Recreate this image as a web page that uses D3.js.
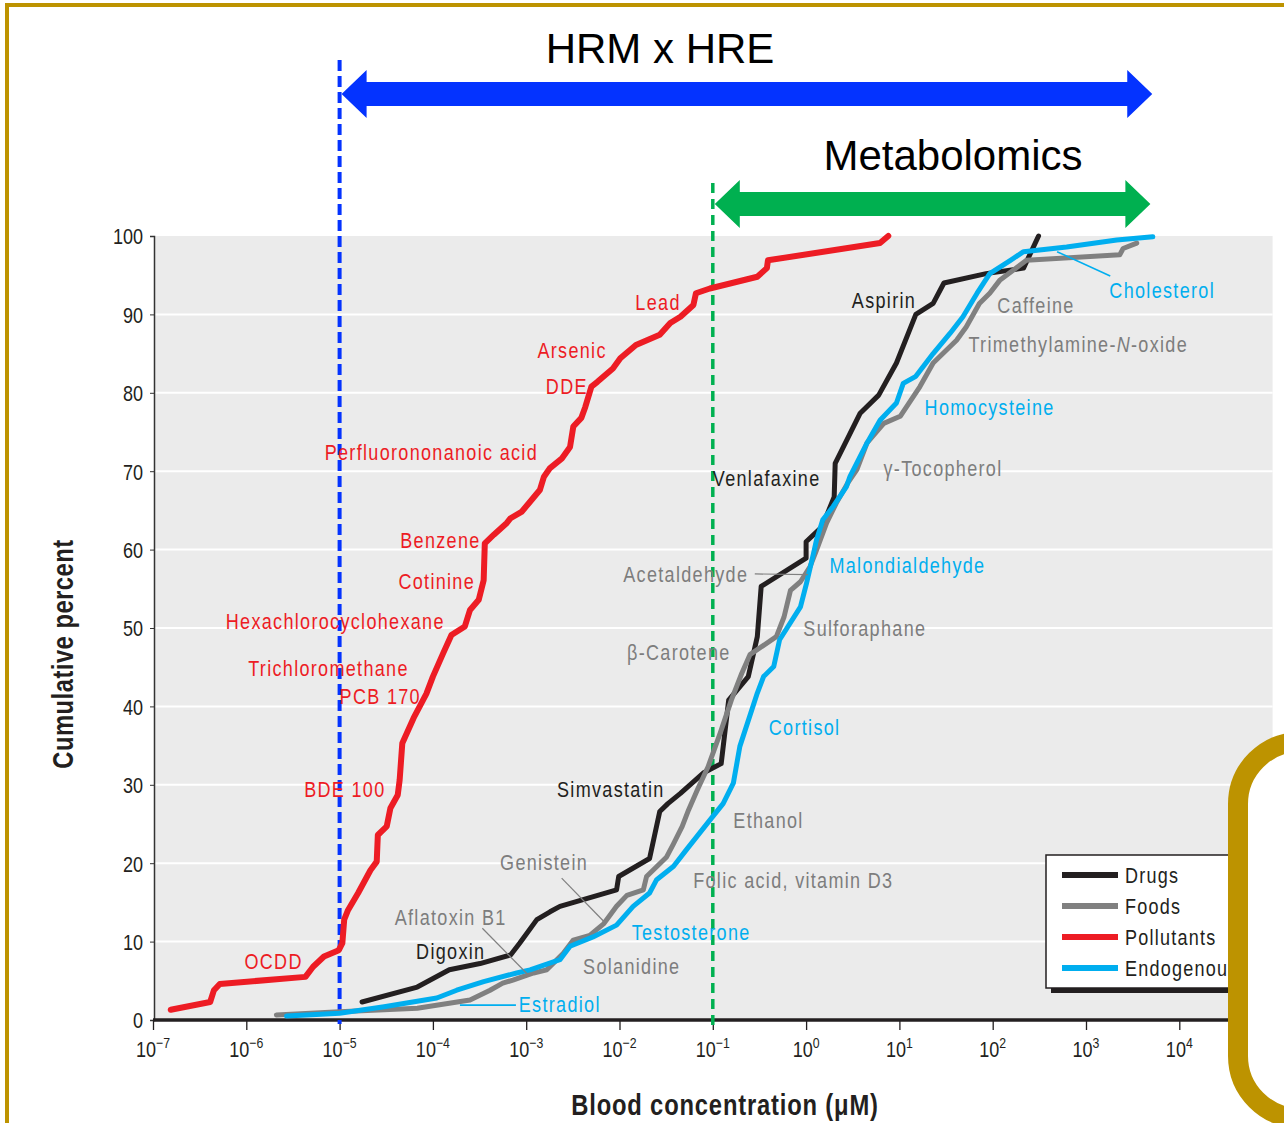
<!DOCTYPE html>
<html>
<head>
<meta charset="utf-8">
<script src="https://cdn.jsdelivr.net/npm/d3@7"></script>
<style>
  body { margin: 0; background: #fff; }
  svg { display: block; }
  text { font-family: "Liberation Sans", Arial, sans-serif; }
</style>
</head>
<body>
<svg id="chart" width="1284" height="1123"></svg>
<script>
// Cumulative distributions of blood concentrations: [concentration (µM), cumulative percent]
const pollutants = [
  [1.55e-7,1.3],[4.1e-7,2.3],[4.5e-7,3.8],[5.2e-7,4.6],[4.3e-6,5.5],[5.2e-6,6.8],[6.8e-6,8.1],
  [9.8e-6,8.9],[1.07e-5,9.8],[1.12e-5,12.8],[1.23e-5,14.0],[1.58e-5,16.2],[2.14e-5,19.1],
  [2.5e-5,20.2],[2.57e-5,23.6],[3.2e-5,24.7],[3.5e-5,27.0],[4.2e-5,28.7],[4.4e-5,30.6],
  [4.7e-5,35.3],[6.2e-5,38.5],[8.5e-5,41.6],[1.0e-4,43.8],[1.29e-4,46.8],[1.58e-4,49.1],
  [2.2e-4,50.2],[2.5e-4,52.3],[3.1e-4,53.6],[3.5e-4,56.1],[3.6e-4,60.8],[4.5e-4,61.9],
  [6.2e-4,63.4],[6.8e-4,64.0],[8.9e-4,64.8],[1.1e-3,66.1],[1.4e-3,67.6],[1.55e-3,69.3],
  [1.8e-3,70.4],[2.4e-3,71.6],[2.95e-3,73.1],[3.2e-3,75.7],[3.9e-3,76.8],[4.3e-3,78.2],
  [5.0e-3,80.8],[5.8e-3,81.4],[8.5e-3,83.1],[1.02e-2,84.4],[1.5e-2,86.1],[2.7e-2,87.4],
  [3.5e-2,88.9],[4.5e-2,89.7],[6.2e-2,91.2],[6.6e-2,92.7],[9.3e-2,93.3],[0.30,94.8],
  [0.38,95.9],[0.39,96.9],[6.2,99.1],[7.6,100]
];
const drugs = [
  [1.74e-5,2.3],[6.8e-5,4.2],[1.5e-4,6.4],[3.2e-4,7.2],[6.8e-4,8.3],[8.5e-4,9.8],[1.3e-3,12.8],
  [1.8e-3,13.8],[2.3e-3,14.5],[9.3e-3,16.6],[9.8e-3,18.3],[2.1e-2,20.6],[2.7e-2,26.6],
  [3.3e-2,27.6],[4.5e-2,28.9],[7.9e-2,31.5],[0.123,32.7],[0.148,40.8],[0.24,43.8],[0.30,48.9],
  [0.33,55.3],[1.0,58.9],[1.0,61.0],[1.48,62.9],[2.0,66.7],[2.05,71.0],[3.8,77.4],[6.0,79.7],
  [9.3,83.8],[15,90.0],[23,91.4],[30,94.0],[85,95.2],[214,95.9],[310,100]
];
const foods = [
  [2.1e-6,0.64],[1.0e-5,1.06],[6.8e-5,1.5],[2.5e-4,2.55],[4.1e-4,3.8],[5.6e-4,4.7],[7.2e-4,5.1],
  [1.2e-3,6.0],[1.66e-3,6.4],[2.5e-3,8.5],[3.2e-3,10.2],[4.8e-3,10.8],[6.8e-3,12.3],[9.3e-3,14.5],
  [1.2e-2,15.9],[1.8e-2,16.6],[1.95e-2,18.3],[3.2e-2,20.8],[3.8e-2,22.5],[4.7e-2,24.7],
  [5.5e-2,26.8],[6.8e-2,29.3],[8.9e-2,32.3],[0.12,36.6],[0.158,40.8],[0.204,44.2],[0.25,46.6],
  [0.48,48.9],[0.58,51.4],[0.68,54.8],[0.87,55.9],[1.1,57.8],[1.29,59.9],[1.66,63.4],[2.1,65.9],
  [2.8,68.5],[3.5,70.2],[4.5,73.6],[6.8,76.1],[10.2,77.0],[16.6,80.8],[23,83.8],[41,86.7],
  [52,88.4],[72,91.4],[93,92.7],[120,94.4],[230,96.9],[2300,97.6],[2500,98.4],[3500,99.1]
];
const endogenous = [
  [2.7e-6,0.5],[1.0e-5,0.85],[3.0e-5,1.7],[1.1e-4,2.8],[1.8e-4,3.8],[3.5e-4,4.9],[7.9e-4,6.0],
  [1.1e-3,6.4],[2.3e-3,7.7],[2.95e-3,9.4],[5.2e-3,10.6],[9.3e-3,12.1],[1.4e-2,14.5],[2.1e-2,16.2],
  [2.5e-2,17.9],[3.8e-2,19.6],[5.2e-2,21.7],[9.3e-2,25.5],[0.129,27.6],[0.166,30.2],[0.195,34.9],
  [0.30,41.7],[0.35,43.8],[0.45,45.1],[0.52,48.5],[0.87,52.7],[1.01,55.7],[1.2,59.5],[1.29,61.2],
  [1.51,63.8],[1.95,65.5],[2.7,68.0],[2.95,69.3],[4.5,73.6],[6.2,76.5],[9.3,78.7],[11,81.2],
  [15,82.1],[23,85.0],[35,87.6],[48,89.7],[68,92.7],[93,95.2],[155,96.9],[214,98.0],[620,98.6],
  [2140,99.5],[5200,99.9]
];

// Axis ticks
const yTicks = [0,10,20,30,40,50,60,70,80,90,100];
const xDecades = [1e-7,1e-6,1e-5,1e-4,1e-3,1e-2,1e-1,1e0,1e1,1e2,1e3,1e4,1e5];
const xTickLabels = [
  [1e-7,"\u22127"],[1e-6,"\u22126"],[1e-5,"\u22125"],[1e-4,"\u22124"],[1e-3,"\u22123"],[1e-2,"\u22122"],
  [1e-1,"\u22121"],[1e0,"0"],[1e1,"1"],[1e2,"2"],[1e3,"3"],[1e4,"4"]
];

// Legend categories
const categories = ["Drugs","Foods","Pollutants","Endogenous"];
const catColors = { Drugs:"#231f20", Foods:"#808080", Pollutants:"#ed1c24", Endogenous:"#00aeef" };
const labelColors = { Drugs:"#231f20", Foods:"#7d7d7d", Pollutants:"#ed1c24", Endogenous:"#00aeef" };

// Compound names: [text, log10 concentration of label start, percent at label middle, group]
const compoundLabels = [
  ["Lead",-1.83,91.6,"Pollutants"],["Arsenic",-2.88,85.5,"Pollutants"],["DDE",-2.79,80.9,"Pollutants"],
  ["Perfluorononanoic acid",-5.16,72.4,"Pollutants"],["Benzene",-4.35,61.2,"Pollutants"],
  ["Cotinine",-4.37,56.0,"Pollutants"],["Hexachlorocyclohexane",-6.22,50.9,"Pollutants"],
  ["Trichloromethane",-5.98,44.9,"Pollutants"],["PCB 170",-5.0,41.3,"Pollutants"],
  ["BDE 100",-5.38,29.5,"Pollutants"],["OCDD",-6.02,7.5,"Pollutants"],
  ["Aspirin",0.49,91.8,"Drugs"],["Venlafaxine",-1.0,69.1,"Drugs"],["Simvastatin",-2.67,29.5,"Drugs"],
  ["Digoxin",-4.18,8.8,"Drugs"],
  ["Caffeine",2.05,91.2,"Foods"],["Trimethylamine-|N|-oxide",1.74,86.2,"Foods"],
  ["\u03b3-Tocopherol",0.83,70.4,"Foods"],["Acetaldehyde",-1.96,56.9,"Foods"],
  ["Sulforaphane",-0.03,50.0,"Foods"],["\u03b2-Carotene",-1.92,46.9,"Foods"],["Ethanol",-0.78,25.5,"Foods"],
  ["Genistein",-3.28,20.2,"Foods"],["Folic acid, vitamin D3",-1.21,17.9,"Foods"],
  ["Aflatoxin B1",-4.41,13.1,"Foods"],["Solanidine",-2.39,6.9,"Foods"],
  ["Cholesterol",3.25,93.1,"Endogenous"],["Homocysteine",1.27,78.2,"Endogenous"],
  ["Malondialdehyde",0.25,58.0,"Endogenous"],["Cortisol",-0.40,37.4,"Endogenous"],
  ["Testosterone",-1.87,11.2,"Endogenous"],["Estradiol",-3.08,2.0,"Endogenous"]
];
// Leader lines: [log10 x1, pct1, log10 x2, pct2, group]
const leaders = [
  [-0.55,56.9,0.02,56.8,"Foods"],[-2.62,18.1,-2.17,12.6,"Foods"],[-3.47,11.7,-2.99,5.9,"Foods"],
  [2.69,98.0,3.26,94.9,"Endogenous"],[-3.71,1.9,-3.11,1.9,"Endogenous"]
];

// Detection ranges: [label, lower limit (µM), upper log10 limit]
const ranges = [
  ["HRM x HRE", 1e-5, 3.71],
  ["Metabolomics", 1e-1, 3.69]
];

const gold = "#bd9300";
const NARROW = 0.82; // horizontal squeeze giving a condensed face
const svg = d3.select("#chart");

const x = d3.scaleLog().domain([1e-7, 1e5]).range([153, 1272.6]);
const y = d3.scaleLinear().domain([0, 100]).range([1020, 236]);

// outer frame
svg.append("rect").attr("x", 7).attr("y", 5).attr("width", 1400).attr("height", 1400)
  .attr("fill", "none").attr("stroke", gold).attr("stroke-width", 4);

// plot background
svg.append("rect").attr("x", x(1e-7) + 2).attr("y", y(100))
  .attr("width", x(1e5) - x(1e-7) - 2).attr("height", y(0) - y(100)).attr("fill", "#ebebeb");

// horizontal grid
svg.append("g").selectAll("line").data(yTicks.filter(v => v > 0 && v < 100)).join("line")
  .attr("x1", x(1e-7) + 2).attr("x2", x(1e5)).attr("y1", d => y(d)).attr("y2", d => y(d))
  .attr("stroke", "#fff").attr("stroke-width", 2);

// y axis
const yAxis = svg.append("g").attr("transform", `translate(${x(1e-7) + 1},0)`)
  .call(d3.axisLeft(y).tickValues(yTicks).tickSize(4));
yAxis.select(".domain").attr("stroke", "#333").attr("stroke-width", 1.5);
yAxis.selectAll(".tick line").attr("stroke", "#333");
yAxis.selectAll("text").attr("font-size", 22).attr("fill", "#231f20")
  .attr("font-family", "Liberation Sans, Arial, sans-serif")
  .attr("x", -11 / NARROW).attr("dy", "0.36em").attr("transform", `scale(${NARROW},1)`);

// x axis: major ticks below, minor ticks above
const minor = x.ticks().filter(v => !xDecades.includes(v));
const xMajor = svg.append("g").attr("transform", `translate(0,${y(0)})`)
  .call(d3.axisBottom(x).tickValues(xDecades).tickSize(10).tickFormat(""));
xMajor.select(".domain").remove();
xMajor.selectAll(".tick line").attr("stroke", "#231f20").attr("stroke-width", 1.3);
const xMinor = svg.append("g").attr("transform", `translate(0,${y(0)})`)
  .call(d3.axisTop(x).tickValues(minor).tickSize(7).tickFormat(""));
xMinor.select(".domain").remove();
xMinor.selectAll(".tick line").attr("stroke", "#231f20").attr("stroke-width", 1.3);
svg.append("line").attr("x1", x(1e-7)).attr("x2", x(1e5)).attr("y1", y(0)).attr("y2", y(0))
  .attr("stroke", "#231f20").attr("stroke-width", 3.5);

const xl = svg.append("g").selectAll("text").data(xTickLabels).join("text")
  .attr("font-size", 22).attr("fill", "#231f20").attr("text-anchor", "middle")
  .attr("transform", d => `translate(${x(d[0])},1057) scale(${NARROW},1)`);
xl.append("tspan").text("10");
xl.append("tspan").attr("dy", -9).attr("font-size", 15).text(d => d[1]);

// axis titles
svg.append("text").attr("font-weight", "bold").attr("font-size", 29).attr("letter-spacing", 0.6)
  .attr("fill", "#231f20").attr("text-anchor", "middle")
  .attr("transform", `translate(73,${(y(0) + y(100)) / 2 + 26}) rotate(-90) scale(${NARROW},1)`)
  .text("Cumulative percent");
svg.append("text").attr("font-weight", "bold").attr("font-size", 29).attr("letter-spacing", 1)
  .attr("fill", "#231f20").attr("text-anchor", "middle")
  .attr("transform", `translate(725,1115) scale(${NARROW},1)`).text("Blood concentration (\u03bcM)");

// dashed range limits
svg.append("line").attr("x1", x(1e-5)).attr("x2", x(1e-5)).attr("y1", 60).attr("y2", 1024)
  .attr("stroke", "#0433ff").attr("stroke-width", 4).attr("stroke-dasharray", "11,5");
svg.append("line").attr("x1", x(1e-1)).attr("x2", x(1e-1)).attr("y1", 183).attr("y2", 1026)
  .attr("stroke", "#00b050").attr("stroke-width", 3.5).attr("stroke-dasharray", "10,6");

// series lines
const line = d3.line().x(d => x(d[0])).y(d => y(d[1]));
const drawOrder = [["Pollutants", pollutants, 6], ["Drugs", drugs, 5], ["Foods", foods, 5], ["Endogenous", endogenous, 5]];
svg.append("g").selectAll("path").data(drawOrder).join("path")
  .attr("d", d => line(d[1])).attr("fill", "none")
  .attr("stroke", d => catColors[d[0]]).attr("stroke-width", d => d[2])
  .attr("stroke-linejoin", "round").attr("stroke-linecap", "round");

// leader lines
svg.append("g").selectAll("line").data(leaders).join("line")
  .attr("x1", d => x(10 ** d[0])).attr("y1", d => y(d[1]))
  .attr("x2", d => x(10 ** d[2])).attr("y2", d => y(d[3]))
  .attr("stroke", d => d[4] === "Endogenous" ? "#00aeef" : "#808080")
  .attr("stroke-width", d => d[4] === "Endogenous" ? 1.6 : 1.2);

// compound labels
const lab = svg.append("g").selectAll("text").data(compoundLabels).join("text")
  .attr("font-size", 22).attr("letter-spacing", 1.6)
  .attr("fill", d => labelColors[d[3]])
  .attr("transform", d => `translate(${x(10 ** d[1])},${y(d[2])}) scale(${NARROW},1)`)
  .attr("dy", "0.36em");
lab.each(function(d) {
  const parts = d[0].split("|");
  const t = d3.select(this);
  parts.forEach((p, i) => t.append("tspan").attr("font-style", i === 1 ? "italic" : null).text(p));
});

// range arrows with titles
function arrowPath(x1, x2, yc) {
  const sh = 12, hh = 24, hl = 25;
  return `M${x1},${yc} L${x1 + hl},${yc - hh} L${x1 + hl},${yc - sh} L${x2 - hl},${yc - sh} L${x2 - hl},${yc - hh}` +
         ` L${x2},${yc} L${x2 - hl},${yc + hh} L${x2 - hl},${yc + sh} L${x1 + hl},${yc + sh} L${x1 + hl},${yc + hh} Z`;
}
const arrowStyle = [
  { yc: 94, color: "#0433ff", ty: 63, tx: 660 },
  { yc: 204, color: "#00b050", ty: 170, tx: 953 }
];
ranges.forEach((r, i) => {
  const s = arrowStyle[i];
  svg.append("path").attr("d", arrowPath(x(r[1]) + 2, x(10 ** r[2]), s.yc)).attr("fill", s.color);
  svg.append("text").attr("font-size", 42).attr("fill", "#000")
    .attr("text-anchor", "middle").attr("x", s.tx).attr("y", s.ty).text(r[0]);
});

// legend
const lg = svg.append("g").attr("transform", "translate(1046,855)");
lg.append("rect").attr("x", 5).attr("y", 5).attr("width", 300).attr("height", 133).attr("fill", "#231f20");
lg.append("rect").attr("x", 0).attr("y", 0).attr("width", 300).attr("height", 133)
  .attr("fill", "#fff").attr("stroke", "#231f20").attr("stroke-width", 1.5);
const li = lg.selectAll("g.item").data(categories).join("g").attr("class", "item")
  .attr("transform", (d, i) => `translate(0,${20 + i * 31})`);
li.append("line").attr("x1", 16).attr("x2", 72).attr("stroke", d => catColors[d]).attr("stroke-width", 6);
li.append("text").attr("font-size", 22).attr("letter-spacing", 1.5)
  .attr("fill", "#231f20").attr("transform", `translate(79,0) scale(${NARROW},1)`)
  .attr("dy", "0.36em").text(d => d);

// rounded gold panel at lower right
svg.append("rect").attr("x", 1238).attr("y", 742).attr("width", 300).attr("height", 376)
  .attr("rx", 62).attr("ry", 62).attr("fill", "#fff").attr("stroke", gold).attr("stroke-width", 20);
</script>
</body>
</html>
